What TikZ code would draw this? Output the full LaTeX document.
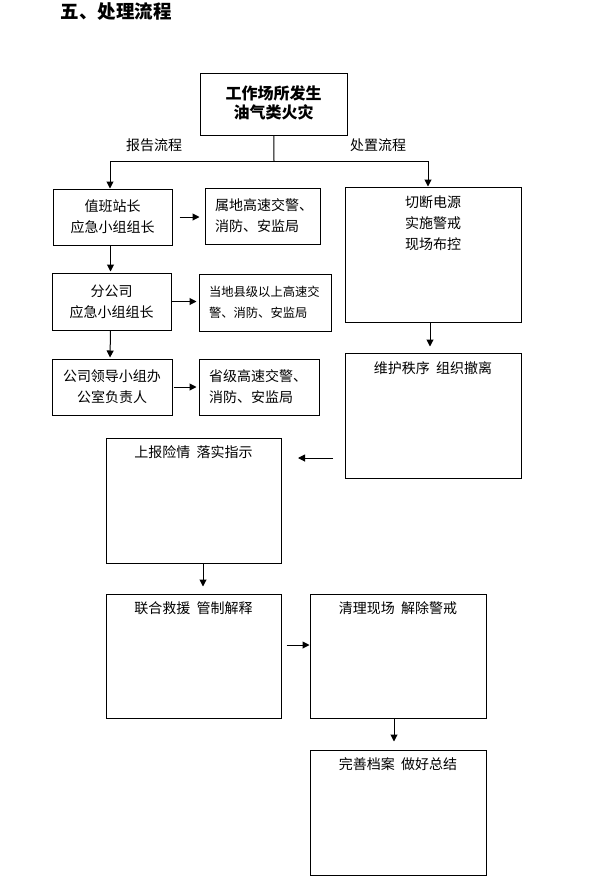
\documentclass[tikz,border=0pt]{standalone}
\usepackage{fontspec}
\newfontfamily\cjk{Noto Sans CJK SC}
\usetikzlibrary{positioning,arrows.meta}

\tikzset{
  box/.style={draw, line width=1pt, inner sep=0pt, align=center,
    font=\cjk\fontsize{14}{21}\selectfont},
  infobox/.style={box, align=left},
  bigbox/.style={box, minimum width=176pt, minimum height=125pt},
  txt/.style={inner sep=0pt, align=center, font=\cjk\fontsize{14}{21}\selectfont},
  arr/.style={line width=1pt, -{Triangle[length=7pt,width=7pt]}}
}
\newcommand{\gap}{\hspace{0.45em}}

\begin{document}
\begin{tikzpicture}[x=1pt,y=-1pt]
    \useasboundingbox (0,0) rectangle (595,879);

    \node[inner sep=0pt, font=\cjk\bfseries\fontsize{18.5}{20}\selectfont] (title) at (116,12) {五、处理流程};

    \node[box, minimum width=147pt, minimum height=62pt, font=\cjk\bfseries\fontsize{16}{18.5}\selectfont] (fire) at (273.5,104) {工作场所发生\\油气类火灾\vphantom{g}};
    \node[txt] (report flow) at (154,145) {报告流程};
    \node[txt] (handle flow) at (378,145) {处置流程};

    % report flow
    \node[box, minimum width=119pt, minimum height=56pt] (duty) at (112.5,217) {值班站长\\应急小组组长};
    \node[infobox, minimum width=115pt, minimum height=56pt, text width=95pt] (local) at (262.5,216) {属地高速交警、\\消防、安监局};
    \node[box, minimum width=119pt, minimum height=57pt] (branch) at (111.5,301.5) {分公司\\应急小组组长};
    \node[infobox, minimum width=132pt, minimum height=57pt, text width=112pt, font=\cjk\fontsize{12.3}{21}\selectfont] (county) at (265,302.5) {当地县级以上高速交\\警、消防、安监局};
    \node[box, minimum width=120pt, minimum height=56pt] (leader) at (112,387) {公司领导小组办\\公室负责人};
    \node[infobox, minimum width=120pt, minimum height=56pt, text width=100pt] (province) at (259,387) {省级高速交警、\\消防、安监局};

    % handle flow
    \node[bigbox, minimum height=135pt] (cut) at (433,254.5) {};
    \node[txt, below=9pt of cut.north] (cut text) {切断电源\\实施警戒\\现场布控};
    \node[bigbox] (order) at (433,415.5) {};
    \node[txt, below=9pt of order.north] (order text) {维护秩序\gap 组织撤离};
    \node[bigbox, minimum width=175pt] (report) at (193.5,500.5) {};
    \node[txt, below=8pt of report.north] (report text) {上报险情\gap 落实指示};
    \node[bigbox, minimum width=175pt, minimum height=124pt] (rescue) at (193.5,656) {};
    \node[txt, below=8pt of rescue.north] (rescue text) {联合救援\gap 管制解释};
    \node[bigbox, minimum height=124pt] (clean) at (398,656) {};
    \node[txt, below=8pt of clean.north] (clean text) {清理现场\gap 解除警戒};
    \node[bigbox] (archive) at (398,812.5) {};
    \node[txt, below=8pt of archive.north] (archive text) {完善档案\gap 做好总结};

    \coordinate (split) at (274,161);
    \coordinate (lsplit) at (110,161);
    \coordinate (rsplit) at (428,161);
    \coordinate (from order) at (333,458);
    \coordinate (to report) at (298,458);

    \draw[line width=1pt] (fire) -- (split);
    \draw[line width=1pt] (lsplit) -- (rsplit);
    \draw[arr] (lsplit) -- (lsplit |- duty.north);
    \draw[arr] (rsplit) -- (rsplit |- cut.north);

    \draw[arr, shorten <=7pt, shorten >=5pt] (duty.east) -- (duty.east -| local.west);
    \draw[arr, shorten >=1pt] ([xshift=-2pt]duty.south) -- ([xshift=-1pt]branch.north);
    \draw[arr, shorten >=2pt] (branch.east) -- (branch.east -| county.west);
    \draw[arr, shorten >=1pt] ([xshift=-1pt]branch.south) -- ([xshift=-2pt]leader.north);
    \draw[arr, shorten <=1pt, shorten >=2pt] (leader.east) -- (leader.east -| province.west);

    \draw[arr, shorten >=6pt] ([xshift=-3pt]cut.south) -- ([xshift=-3pt]order.north);
    \draw[arr] (from order) -- (to report);
    \draw[arr, shorten >=7pt] ([xshift=9.5pt]report.south) -- ([xshift=9.5pt]rescue.north);
    \draw[arr, shorten <=5pt] (rescue.east |- 0,645) -- (clean.west |- 0,645);
    \draw[arr, shorten >=8pt] ([xshift=-4pt]clean.south) -- ([xshift=-4pt]archive.north);
\end{tikzpicture}
\end{document}
